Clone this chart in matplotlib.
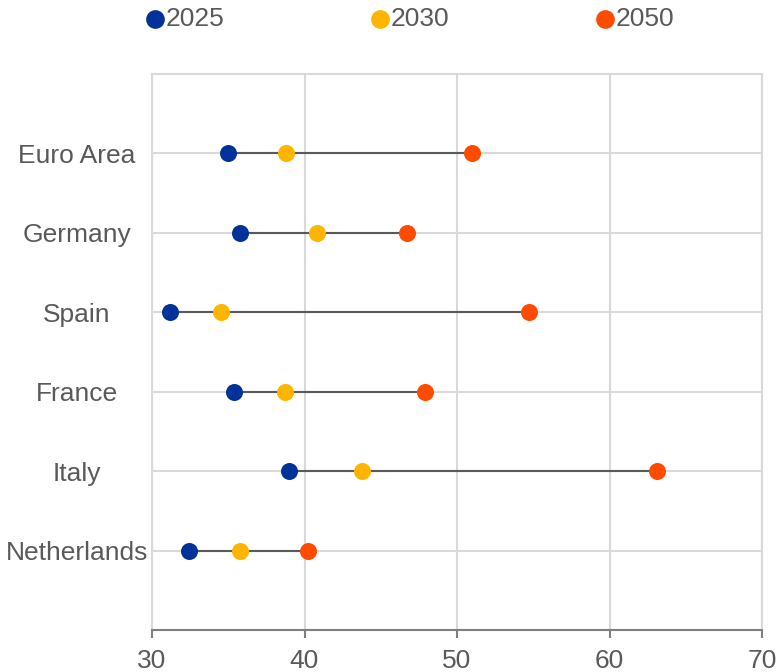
import matplotlib.pyplot as plt
import numpy as np

plt.rcParams['font.family'] = ['Liberation Sans', 'DejaVu Sans']

# data
countries = ['Euro Area', 'Germany', 'Spain', 'France', 'Italy', 'Netherlands']
y2025 = [35.0, 35.8, 31.2, 35.4, 39.0, 32.4]
y2030 = [38.8, 40.8, 34.5, 38.7, 43.8, 35.8]
y2050 = [51.0, 46.7, 54.7, 47.9, 63.1, 40.2]

series = [('2025', y2025, '#003299'), ('2030', y2030, '#FFB400'), ('2050', y2050, '#FF4B00')]
grid_col = '#D9D9D9'
text_col = '#595959'

fig = plt.figure(figsize=(7.78, 6.72), dpi=100)
ax = fig.add_axes([152 / 778, 1 - 630 / 672, 610 / 778, 556 / 672])

pos = np.arange(len(countries))

# connector between lowest and highest value
lo = np.minimum.reduce([y2025, y2030, y2050])
hi = np.maximum.reduce([y2025, y2030, y2050])
ax.hlines(pos, lo, hi, color=text_col, lw=1.5, zorder=2)

for name, vals, col in series:
    ax.scatter(vals, pos, s=150, color=col, label=name, zorder=3, linewidths=0)

ax.set_xlim(30, 70)
ax.set_ylim(6, -1)
ax.set_xticks([30, 40, 50, 60, 70])
ax.set_yticks(pos)
ax.set_yticklabels(countries, ha='center')

ax.grid(True, color=grid_col, lw=1.5, zorder=0)
ax.set_axisbelow(True)
for s in ['top', 'left', 'right']:
    ax.spines[s].set_color(grid_col)
    ax.spines[s].set_linewidth(1.5)
ax.spines['bottom'].set_color('#7F7F7F')
ax.spines['bottom'].set_linewidth(1.5)

ax.tick_params(axis='y', length=0, pad=54, labelsize=19, labelcolor=text_col)
ax.tick_params(axis='x', length=6, width=1.5, color='#7F7F7F', pad=8,
               labelsize=19, labelcolor=text_col)

fig.legend(loc='center left', bbox_to_anchor=(147 / 778, 1 - 19 / 672), ncol=3,
           frameon=False, fontsize=19, handlelength=0.6, handletextpad=0.1,
           columnspacing=5.6, borderaxespad=0, borderpad=0, labelcolor=text_col,
           scatterpoints=1, markerscale=1.1)

fig.savefig('out.png', dpi=100)
